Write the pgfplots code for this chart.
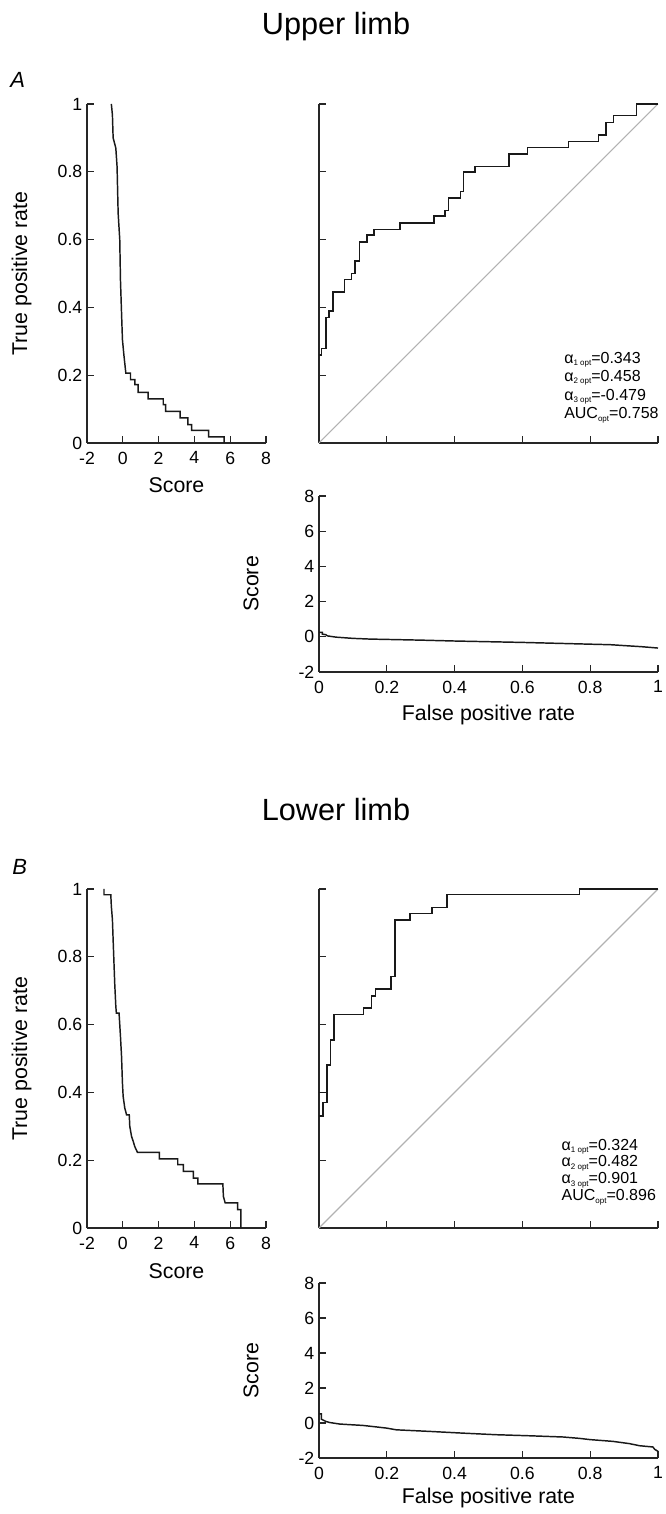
\documentclass[border=0pt]{standalone}
\usepackage{fontspec}
\setmainfont{Liberation Sans}
\usepackage{pgfplots}
\pgfplotsset{compat=1.18}

\newcommand{\sub}[1]{\raisebox{-0.3ex}{\fontsize{6}{6}\selectfont #1}}

\pgfplotsset{
  base/.style={
    scale only axis,
    axis lines=left,
    axis line style={-, line width=0.8pt, black!85},
    tick align=inside,
    major tick length=5pt,
    tick style={line width=0.8pt, black!85},
    /pgf/number format/assume math mode=true,
    tick label style={font=\fontsize{13.25}{14}\selectfont},
    label style={font=\fontsize{16}{17}\selectfont},
    xticklabel style={yshift=-3pt},
    clip=false,
  },
  leftax/.style={base, width=134.25pt, height=254.25pt,
    xmin=-2, xmax=8, ymin=0, ymax=1,
    xtick={-2,0,2,4,6,8}, ytick={0,0.2,0.4,0.6,0.8,1},
    xlabel={Score}, ylabel={True positive rate},
    xlabel style={at={(axis description cs:0.5,-0.1475)}, anchor=base},
    ylabel style={at={(axis description cs:-0.366,0.5)}, anchor=center},
  },
  rocax/.style={base, width=254.25pt, height=254.25pt,
    xmin=0, xmax=1, ymin=0, ymax=1,
    xtick={0,0.2,0.4,0.6,0.8,1}, ytick={0,0.2,0.4,0.6,0.8,1},
    xticklabels={}, yticklabels={},
  },
  lowax/.style={base, width=254.25pt,
    xmin=0, xmax=1, ymin=-2, ymax=8,
    xtick={0,0.2,0.4,0.6,0.8,1}, ytick={-2,0,2,4,6,8},
    xlabel={False positive rate}, ylabel={Score},
    ylabel style={at={(axis description cs:-0.2006,0.5)}, anchor=center},
  },
  curve/.style={black!90, line width=1.1pt},
  diag/.style={black!30, line width=0.8pt},
}

\begin{document}
\begin{tikzpicture}
\useasboundingbox (0pt,0pt) rectangle (498.75pt,1135.5pt);

% ---------- Titles ----------
\node[font=\fontsize{23}{23}\selectfont, anchor=base, inner sep=0] at (252pt,1109.25pt) {Upper limb};
\node[font=\fontsize{23}{23}\selectfont, anchor=base, inner sep=0] at (252pt,519.75pt) {Lower limb};
\node[font=\fontsize{16.5}{16.5}\selectfont\itshape, anchor=base west, inner sep=0] at (7.5pt,1069.5pt) {A};
\node[font=\fontsize{16.5}{16.5}\selectfont\itshape, anchor=base west, inner sep=0] at (9pt,479.25pt) {B};

% ---------- A left ----------
\begin{axis}[leftax, at={(65.25pt,803.25pt)}, anchor=south west]
\addplot[curve] table {
-0.64 1
-0.58 0.968
-0.54 0.90
-0.39 0.87
-0.32 0.815
-0.26 0.678
-0.17 0.60
-0.13 0.48
-0.07 0.383
-0.02 0.305
0.06 0.26
0.17 0.206
0.43 0.206
0.43 0.187
0.67 0.187
0.67 0.172
0.86 0.172
0.86 0.149
1.42 0.149
1.42 0.130
2.26 0.130
2.26 0.113
2.39 0.113
2.39 0.093
3.20 0.093
3.20 0.074
3.63 0.074
3.63 0.054
3.85 0.054
3.85 0.037
4.79 0.037
4.79 0.018
5.66 0.018
5.66 0
};
\end{axis}

% ---------- A ROC ----------
\begin{axis}[rocax, at={(239.25pt,803.25pt)}, anchor=south west]
\addplot[diag] coordinates {(0,0) (1,1)};
\addplot[curve, const plot mark left] table {
0 0.26
0.008 0.279
0.021 0.370
0.030 0.390
0.041 0.446
0.075 0.482
0.096 0.500
0.106 0.537
0.119 0.593
0.142 0.613
0.162 0.629
0.239 0.649
0.339 0.669
0.371 0.686
0.382 0.723
0.417 0.742
0.426 0.799
0.460 0.815
0.561 0.853
0.615 0.872
0.736 0.890
0.824 0.909
0.846 0.945
0.868 0.966
0.936 1
1 1
};
\node[anchor=base west, font=\fontsize{12}{12}\selectfont, inner sep=0] at (axis description cs:0.7227,0.235) {α\sub{1 opt}=0.343};
\node[anchor=base west, font=\fontsize{12}{12}\selectfont, inner sep=0] at (axis description cs:0.7227,0.182) {α\sub{2 opt}=0.458};
\node[anchor=base west, font=\fontsize{12}{12}\selectfont, inner sep=0] at (axis description cs:0.7227,0.126) {α\sub{3 opt}=-0.479};
\node[anchor=base west, font=\fontsize{12}{12}\selectfont, inner sep=0] at (axis description cs:0.7227,0.071) {AUC\sub{opt}=0.758};
\end{axis}

% ---------- A lower ----------
\begin{axis}[lowax, height=132pt, at={(239.25pt,631.5pt)}, anchor=south west,
  xlabel style={at={(axis description cs:0.5,-0.2756)}, anchor=base}]
\addplot[curve] table {
0 0.25
0.01 0.25
0.01 0.15
0.02 0.12
0.025 0.05
0.05 -0.02
0.10 -0.09
0.15 -0.13
0.20 -0.15
0.30 -0.19
0.40 -0.24
0.50 -0.28
0.60 -0.32
0.70 -0.37
0.80 -0.42
0.86 -0.45
0.90 -0.50
0.95 -0.56
1 -0.64
};
\end{axis}

% ---------- B left ----------
\begin{axis}[leftax, at={(65.25pt,214.5pt)}, anchor=south west]
\addplot[curve] table {
-1.05 1
-1.05 0.983
-0.67 0.983
-0.64 0.949
-0.58 0.91
-0.54 0.85
-0.45 0.72
-0.39 0.654
-0.36 0.634
-0.21 0.634
-0.17 0.60
-0.13 0.565
-0.07 0.506
-0.02 0.428
0.02 0.388
0.11 0.354
0.21 0.334
0.36 0.334
0.39 0.30
0.49 0.27
0.58 0.256
0.67 0.24
0.82 0.223
2.04 0.223
2.04 0.204
3.07 0.204
3.07 0.187
3.38 0.187
3.38 0.167
3.94 0.167
3.94 0.147
4.19 0.147
4.19 0.13
5.59 0.13
5.62 0.093
5.72 0.074
6.41 0.074
6.41 0.054
6.60 0.054
6.60 0
};
\end{axis}

% ---------- B ROC ----------
\begin{axis}[rocax, at={(239.25pt,214.5pt)}, anchor=south west]
\addplot[diag] coordinates {(0,0) (1,1)};
\addplot[curve, const plot mark left] table {
0 0.331
0.012 0.370
0.023 0.481
0.034 0.555
0.044 0.629
0.132 0.649
0.155 0.685
0.167 0.705
0.213 0.742
0.224 0.909
0.268 0.927
0.334 0.946
0.377 0.983
0.768 1
1 1
};
\addplot[curve] coordinates {(0,0.40) (0.023,0.40)};
\node[anchor=base west, font=\fontsize{12}{12}\selectfont, inner sep=0] at (axis description cs:0.715,0.230) {α\sub{1 opt}=0.324};
\node[anchor=base west, font=\fontsize{12}{12}\selectfont, inner sep=0] at (axis description cs:0.715,0.180) {α\sub{2 opt}=0.482};
\node[anchor=base west, font=\fontsize{12}{12}\selectfont, inner sep=0] at (axis description cs:0.715,0.130) {α\sub{3 opt}=0.901};
\node[anchor=base west, font=\fontsize{12}{12}\selectfont, inner sep=0] at (axis description cs:0.715,0.080) {AUC\sub{opt}=0.896};
\end{axis}

% ---------- B lower ----------
\begin{axis}[lowax, height=131.25pt, at={(239.25pt,42pt)}, anchor=south west,
  xlabel style={at={(axis description cs:0.5,-0.26)}, anchor=base}]
\addplot[curve] table {
0 0.52
0.007 0.52
0.007 0.22
0.02 0.09
0.031 0.03
0.061 -0.06
0.13 -0.14
0.199 -0.29
0.228 -0.39
0.326 -0.48
0.425 -0.58
0.523 -0.67
0.621 -0.73
0.72 -0.80
0.769 -0.88
0.80 -0.95
0.867 -1.05
0.916 -1.18
0.946 -1.30
0.985 -1.37
0.99 -1.50
1 -1.62
};
\end{axis}
\end{tikzpicture}
\end{document}
